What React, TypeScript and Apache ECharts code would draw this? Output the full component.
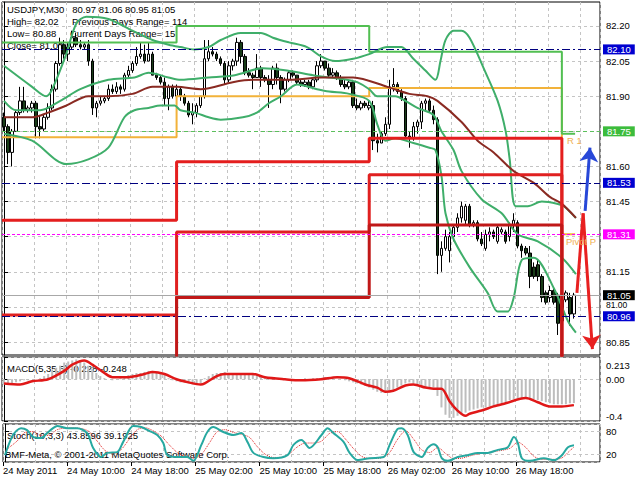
import React, { useEffect, useRef } from 'react';
import * as echarts from 'echarts';

const FONT = 'Tahoma, "Liberation Sans", Arial, sans-serif';
const SLOTS = 149;

// ---- price candles (M30 bars) ----
const opens = [
  81.81, 81.77, 81.66, 81.75, 81.83, 81.88, 81.84, 81.85, 81.87, 81.77,
  81.76, 81.81, 81.85, 81.93, 82.04, 82.12, 82.08, 82.11, 82.15, 82.12,
  82.11, 82.12, 82.05, 81.85, 81.87, 81.88, 81.89, 81.93, 81.92, 81.94,
  81.93, 81.99, 82.01, 82.04, 82.07, 82.08, 82.05, 82.08, 81.99, 81.98,
  81.96, 81.89, 81.94, 81.90, 81.93, 81.90, 81.87, 81.82, 81.83, 81.86,
  81.90, 82.06, 82.09, 82.08, 82.06, 82.04, 81.97, 82.03, 82.05, 82.13,
  82.07, 82.00, 81.99, 81.98, 82.02, 81.98, 81.97, 81.95, 82.02, 81.98,
  81.93, 81.97, 82.00, 81.99, 81.96, 81.95, 81.96, 81.94, 81.97, 82.03,
  82.05, 82.02, 81.99, 82.00, 81.98, 81.95, 81.94, 81.96, 81.86, 81.85,
  81.87, 81.85, 81.86, 81.71, 81.70, 81.74, 81.78, 81.94, 81.95, 81.92,
  81.89, 81.73, 81.72, 81.77, 81.79, 81.87, 81.88, 81.84, 81.80, 81.22,
  81.25, 81.24, 81.30, 81.34, 81.38, 81.37, 81.43, 81.35, 81.36, 81.29,
  81.25, 81.31, 81.32, 81.28, 81.32, 81.32, 81.30, 81.35, 81.36, 81.26,
  81.25, 81.23, 81.17, 81.18, 81.13, 81.06, 81.04, 81.07, 81.05, 80.94,
  81.03, 81.04, 80.97,
];
const closes = [
  81.77, 81.66, 81.75, 81.83, 81.88, 81.84, 81.85, 81.87, 81.77, 81.76,
  81.81, 81.85, 81.93, 82.04, 82.12, 82.08, 82.11, 82.15, 82.12, 82.11,
  82.12, 82.05, 81.85, 81.87, 81.88, 81.89, 81.93, 81.92, 81.94, 81.93,
  81.99, 82.01, 82.04, 82.07, 82.08, 82.05, 82.08, 81.99, 81.98, 81.96,
  81.89, 81.94, 81.90, 81.93, 81.90, 81.87, 81.82, 81.83, 81.86, 81.90,
  82.06, 82.09, 82.08, 82.06, 82.04, 81.97, 82.03, 82.05, 82.13, 82.07,
  82.00, 81.99, 81.98, 82.02, 81.98, 81.97, 81.95, 82.02, 81.98, 81.93,
  81.97, 82.00, 81.99, 81.96, 81.95, 81.96, 81.94, 81.97, 82.03, 82.05,
  82.02, 81.99, 82.00, 81.98, 81.95, 81.94, 81.96, 81.86, 81.85, 81.87,
  81.86, 81.86, 81.71, 81.70, 81.74, 81.78, 81.94, 81.95, 81.92, 81.89,
  81.73, 81.72, 81.77, 81.79, 81.87, 81.88, 81.84, 81.80, 81.22, 81.25,
  81.30, 81.30, 81.34, 81.38, 81.43, 81.43, 81.35, 81.36, 81.29, 81.27,
  81.31, 81.32, 81.30, 81.34, 81.33, 81.28, 81.35, 81.37, 81.26, 81.24,
  81.23, 81.13, 81.13, 81.13, 81.04, 81.02, 81.07, 81.02, 80.93, 81.03,
  81.06, 80.97, 81.05,
];
const lows = [
  81.75, 81.61, 81.60, 81.75, 81.82, 81.83, 81.83, 81.83, 81.72, 81.72,
  81.75, 81.80, 81.84, 81.92, 82.03, 82.06, 82.05, 82.10, 82.11, 82.10,
  82.10, 82.03, 81.82, 81.81, 81.86, 81.87, 81.88, 81.91, 81.91, 81.91,
  81.92, 81.98, 82.00, 82.03, 82.06, 82.04, 82.05, 81.99, 81.97, 81.95,
  81.86, 81.84, 81.89, 81.90, 81.88, 81.86, 81.81, 81.78, 81.81, 81.85,
  81.89, 82.05, 82.07, 82.05, 82.03, 81.95, 81.96, 82.01, 82.03, 82.04,
  81.99, 81.98, 81.93, 81.98, 81.94, 81.96, 81.85, 81.93, 81.95, 81.87,
  81.92, 81.96, 81.98, 81.95, 81.94, 81.94, 81.93, 81.93, 81.96, 82.02,
  82.01, 81.98, 81.98, 81.97, 81.94, 81.93, 81.93, 81.85, 81.84, 81.84,
  81.85, 81.84, 81.67, 81.66, 81.70, 81.73, 81.76, 81.92, 81.91, 81.88,
  81.72, 81.68, 81.71, 81.74, 81.76, 81.84, 81.83, 81.78, 81.14, 81.15,
  81.24, 81.19, 81.28, 81.32, 81.36, 81.35, 81.34, 81.34, 81.28, 81.26,
  81.24, 81.28, 81.29, 81.27, 81.31, 81.27, 81.28, 81.32, 81.25, 81.21,
  81.22, 81.08, 81.12, 81.11, 81.02, 81.01, 81.02, 81.01, 80.88, 80.92,
  81.02, 80.92, 80.95,
];
const highs = [
  81.83, 81.78, 81.76, 81.84, 81.94, 81.94, 81.86, 81.88, 81.88, 81.82,
  81.82, 81.87, 81.95, 82.05, 82.15, 82.14, 82.13, 82.18, 82.17, 82.14,
  82.13, 82.14, 82.06, 81.88, 81.90, 81.90, 81.95, 81.95, 81.96, 81.95,
  82.00, 82.03, 82.05, 82.11, 82.13, 82.12, 82.13, 82.09, 82.00, 81.99,
  81.98, 81.95, 81.95, 81.95, 81.94, 81.91, 81.88, 81.87, 81.87, 81.90,
  82.14, 82.14, 82.11, 82.09, 82.07, 82.05, 82.05, 82.06, 82.15, 82.14,
  82.08, 82.02, 82.00, 82.08, 82.03, 81.99, 81.99, 82.03, 82.04, 81.99,
  81.98, 82.01, 82.01, 81.99, 81.97, 81.97, 81.97, 81.98, 82.05, 82.08,
  82.05, 82.04, 82.02, 82.01, 81.99, 81.97, 81.97, 81.97, 81.89, 81.88,
  81.88, 81.88, 81.88, 81.74, 81.75, 81.81, 81.97, 82.02, 81.96, 81.93,
  81.90, 81.75, 81.79, 81.80, 81.88, 81.89, 81.89, 81.86, 81.81, 81.28,
  81.33, 81.32, 81.35, 81.40, 81.45, 81.44, 81.44, 81.37, 81.37, 81.32,
  81.33, 81.34, 81.33, 81.35, 81.34, 81.33, 81.36, 81.40, 81.37, 81.27,
  81.26, 81.26, 81.19, 81.20, 81.14, 81.07, 81.09, 81.08, 81.06, 81.05,
  81.07, 81.06, 81.06,
];

// ---- indicator lines on the price pane: [bar, price] ----
const bbUpper = [[0,82.03],[7,81.94],[10.5,81.90],[12,81.93],[15.5,82.08],[18,82.21],[20.5,82.24],[26,82.23],[32,82.18],[37,82.14],[41,82.12],[44,82.11],[47.5,82.10],[51,82.11],[54,82.14],[59,82.17],[64,82.17],[67,82.15],[71,82.13],[75.5,82.11],[79,82.07],[82.5,82.05],[87,82.06],[91,82.08],[95.5,82.11],[99,82.11],[102,82.06],[105,82.01],[107.5,81.97],[108.75,82.05],[110,82.14],[112,82.18],[114,82.18],[116,82.15],[119.5,82.02],[123,81.88],[125,81.75],[126,81.63],[127.5,81.43],[130.5,81.43],[134,81.45],[138,81.44],[139.5,81.43],[142.5,81.38]];
const bbMiddle = [[0,81.88],[3,81.84],[9,81.84],[14,81.88],[19,81.93],[26,81.97],[32.5,81.98],[36,82.00],[41,81.98],[44,81.97],[51,81.98],[57.5,81.99],[64.5,82.02],[70.5,82.01],[77,81.99],[81,81.98],[85.5,81.97],[88,81.96],[91,81.93],[93,81.90],[97.5,81.90],[100,81.88],[103,81.85],[107,81.82],[109,81.75],[112,81.67],[114,81.58],[119,81.46],[124,81.40],[128,81.31],[133,81.28],[139,81.21],[142.5,81.14]];
const bbLower = [[0,81.74],[7,81.71],[15.5,81.61],[21,81.63],[26,81.68],[30,81.81],[32.5,81.84],[36,81.85],[39,81.86],[42.5,81.86],[44,81.84],[47.5,81.83],[51,81.81],[54,81.80],[59.5,81.81],[63,81.83],[66,81.87],[69,81.90],[73,81.95],[78,81.93],[81,81.92],[86,81.91],[91,81.88],[93,81.78],[95,81.71],[97.5,81.72],[102,81.70],[106,81.68],[107.5,81.67],[109,81.56],[110,81.40],[112,81.29],[116,81.17],[120.5,81.06],[123,80.98],[125.5,80.98],[127,81.04],[129,81.20],[132,81.21],[137,81.08],[140.5,80.94],[142.5,80.89]];
const maLine = [[0,81.81],[7,81.81],[11,81.83],[15.5,81.86],[21,81.90],[26,81.90],[32,81.91],[37,81.94],[43,81.94],[49,81.93],[57,81.96],[62,81.97],[71,81.97],[79,81.98],[87,81.98],[95.5,81.94],[101,81.91],[105.5,81.90],[108,81.88],[114,81.79],[118,81.71],[122,81.66],[127,81.58],[132,81.53],[136,81.47],[139,81.44],[142.5,81.38]];

// ---- daily pivot levels ----
const dayStarts = [0, 43, 91, 139];
const lastBar = 142;
const pivotLevels = [81.725, 81.90, 81.935, 81.31];
const r1Levels = [82.13, 82.20, 82.09, 81.74];
const s1Levels = [81.37, 81.62, 81.72, 80.60];
const s2Levels = [80.965, 81.32, 81.565, 80.17];
const s3Levels = [80.61, 81.04, 81.35, 79.46];

// ---- horizontal levels with price tags ----
const levelValues = [82.10, 81.75, 81.53, 81.31, 81.05, 80.96];
const levelTagColors = ['#0000d0', '#3cbc3c', '#0000d0', '#ff00ff', '#000000', '#0000d0'];
const levelLineColors = ['#000080', '#5cbf5c', '#000080', '#ff00ff', '#a8a8a8', '#000080'];
const levelDash: any[] = [[8, 3, 2, 3], [4, 3], [8, 3, 2, 3], [3, 2], 'solid', [8, 3, 2, 3]];

// ---- projection arrows: [bar, price] ----
const redProjection = [[142.75, 81.06], [144.3, 81.40]];
const redArrow = [[144.3, 81.40], [146.6, 80.82]];
const blueArrow = [[144.8, 81.41], [146.0, 81.68]];

// ---- MACD(5,35,5) ----
const macdHist = [
  -0.05, -0.05, -0.04, -0.03, -0.02, -0.01, -0.01, 0.00, 0.00, 0.01,
  0.03, 0.05, 0.08, 0.11, 0.13, 0.16, 0.17, 0.18, 0.19, 0.18,
  0.16, 0.13, 0.10, 0.06, 0.03, 0.01, 0.00, -0.01, 0.00, 0.01,
  0.02, 0.04, 0.05, 0.06, 0.06, 0.07, 0.08, 0.08, 0.07, 0.06,
  0.04, 0.01, -0.01, -0.02, -0.03, -0.03, -0.04, -0.05, -0.05, -0.04,
  0.01, 0.03, 0.05, 0.06, 0.06, 0.07, 0.06, 0.06, 0.06, 0.06,
  0.06, 0.05, 0.05, 0.04, 0.03, 0.02, 0.02, 0.01, 0.01, 0.00,
  0.00, -0.01, 0.00, -0.01, 0.00, 0.01, 0.00, 0.01, 0.01, 0.01,
  0.02, 0.01, 0.01, 0.00, 0.00, -0.01, -0.02, -0.03, -0.04, -0.05,
  -0.06, -0.08, -0.10, -0.12, -0.13, -0.13, -0.12, -0.10, -0.08, -0.06,
  -0.04, -0.03, -0.04, -0.05, -0.07, -0.08, -0.08, -0.08, -0.16, -0.27,
  -0.34, -0.37, -0.37, -0.35, -0.34, -0.32, -0.30, -0.29, -0.28, -0.27,
  -0.27, -0.26, -0.26, -0.24, -0.23, -0.22, -0.20, -0.19, -0.18, -0.18,
  -0.18, -0.18, -0.19, -0.20, -0.21, -0.22, -0.23, -0.24, -0.24, -0.24,
  -0.24, -0.23, -0.228,
];
const macdSignal = [[0,-0.04],[4,-0.05],[7,-0.02],[11,0.0],[15,0.08],[17,0.14],[20,0.18],[22,0.14],[25,0.06],[27,0.02],[31,0.02],[35,0.05],[37,0.07],[40,0.05],[43,0.0],[46,-0.03],[49,-0.05],[50,-0.04],[53,0.03],[55,0.05],[60,0.05],[62,0.05],[65,0.02],[70,0.0],[74,-0.01],[79,0.0],[83,0.02],[86,0.01],[90,-0.05],[93,-0.08],[95,-0.12],[97,-0.11],[100,-0.06],[102,-0.05],[105,-0.08],[107,-0.09],[109,-0.09],[111,-0.21],[113,-0.30],[115,-0.35],[116,-0.33],[119,-0.30],[122,-0.26],[125,-0.23],[130,-0.18],[133,-0.22],[136,-0.26],[139,-0.26],[142,-0.248]];
const macdTicks = [-0.4, 0, 0.213];

// ---- Stochastic(10,3,3) ----
const stochMain = [[0,18],[2,71],[4,89],[5.5,84],[7,66],[9,63],[10.5,76],[12,89],[13,95],[15.5,89],[18,89],[20.5,76],[22,37],[24,13],[25.5,24],[28,26],[29.5,53],[32,95],[34,92],[36,82],[38,71],[39.5,50],[40.5,18],[43,13],[45.5,13],[47,3],[49,45],[50.5,79],[52,92],[54.5,79],[57,71],[59,76],[60.5,53],[62,24],[64.5,13],[67,10],[70.5,18],[72,45],[74,58],[76,37],[79,71],[80.5,89],[82,76],[84.5,53],[86,24],[88,5],[91,10],[94.5,13],[96,45],[98,87],[99,89],[100.5,71],[102,26],[104,13],[105.5,37],[107,47],[108,39],[109,10],[110.5,3],[113,13],[115.5,18],[118,24],[120.5,24],[123,32],[125.5,39],[127,66],[128,50],[129,10],[131,3],[134.5,10],[137,5],[139,18],[140.5,39],[142,43.86]];
const stochSignal = [[0,30],[3,55],[5,78],[7,80],[9,70],[11,70],[13,85],[16,90],[19,88],[21,80],[23,55],[25,30],[27,22],[29,33],[31,60],[33,85],[35,90],[37,82],[39,68],[41,45],[43,25],[45,14],[47,10],[49,20],[51,50],[53,80],[55,85],[57,78],[59,73],[61,65],[63,40],[65,20],[67,12],[69,12],[71,22],[73,40],[75,50],[77,50],[79,55],[81,75],[83,80],[85,60],[87,35],[89,15],[91,9],[94,11],[96,25],[98,60],[100,82],[102,60],[104,32],[106,25],[108,38],[110,22],[112,9],[114,10],[116,16],[118,21],[120,24],[123,29],[126,36],[128,52],[130,38],[132,15],[134,7],[137,7],[139,11],[141,30],[142,39.19]];
const stochTicks = [0, 20, 80, 100];

// ---- axes ----
const priceTicks = [80.85, 81.00, 81.15, 81.30, 81.45, 81.60, 81.75, 81.90, 82.05, 82.20];
const priceLabels = [80.85, 81.00, 81.15, 81.45, 81.60, 81.90, 82.05, 82.20];
const timeLabelBars = [0, 16, 32, 48, 64, 80, 96, 112, 128];
const timeLabels = ['24 May 2011', '24 May 10:00', '24 May 18:00', '25 May 02:00', '25 May 10:00', '25 May 18:00', '26 May 02:00', '26 May 10:00', '26 May 18:00'];

function steps(levels: number[]) {
  const pts: number[][] = [];
  levels.forEach((v, d) => {
    const start = d === 0 ? -0.5 : dayStarts[d];
    const end = d < levels.length - 1 ? dayStarts[d + 1] : lastBar + 0.3;
    pts.push([start, v], [end, v]);
  });
  return pts;
}

const gridLine = { show: true, lineStyle: { color: '#c4c4c4', type: [3, 3] as any, width: 1 } };

function buildOption() {
  const cats = Array.from({ length: SLOTS }, (_, i) => String(i));
  const catAxis = (g: number) => ({
    type: 'category', gridIndex: g, data: cats, boundaryGap: true,
    axisLine: { show: false }, axisTick: { show: false }, axisLabel: { show: false },
    splitLine: { ...gridLine, interval: 7 },
  });
  const hiddenVal = (g: number) => ({ type: 'value', gridIndex: g, min: -0.5, max: SLOTS - 0.5, show: false });
  const timeTickVals = timeLabelBars.map((b) => b - 0.5);

  const line = (data: any, color: string, width: number, extra: any = {}) => ({
    type: 'line', xAxisIndex: 1, yAxisIndex: 0, data, symbol: 'none', silent: true,
    lineStyle: { color, width }, z: 3, ...extra,
  });

  const txt = (x: number, y: number, text: string, fill = '#000', z = 1) => ({
    type: 'text', x, y, z, silent: true,
    style: { text, fill, fontSize: 9.5, fontFamily: FONT, verticalAlign: 'middle' },
  });

  return {
    animation: false,
    backgroundColor: '#ffffff',
    textStyle: { fontFamily: FONT },
    grid: [
      { left: 2, top: 2, width: 598, height: 353, show: true, borderColor: '#000', borderWidth: 1, backgroundColor: 'transparent' },
      { left: 2, top: 357, width: 598, height: 64, show: true, borderColor: '#000', borderWidth: 1, backgroundColor: 'transparent' },
      { left: 2, top: 424, width: 598, height: 38, show: true, borderColor: '#000', borderWidth: 1, backgroundColor: 'transparent' },
    ],
    xAxis: [
      catAxis(0), hiddenVal(0),
      catAxis(1), hiddenVal(1),
      catAxis(2),
      {
        type: 'value', gridIndex: 2, min: -0.5, max: SLOTS - 0.5, position: 'bottom',
        axisLine: { show: false },
        axisTick: { show: true, customValues: timeTickVals, length: 4, lineStyle: { color: '#000' } },
        axisLabel: {
          customValues: timeTickVals, align: 'left', margin: 3, color: '#000', fontSize: 9.5, fontFamily: FONT,
          formatter: (v: number) => {
            const k = timeTickVals.findIndex((t) => Math.abs(t - v) < 0.01);
            return k >= 0 ? timeLabels[k] : '';
          },
        },
        splitLine: { show: false },
      },
    ],
    yAxis: [
      {
        type: 'value', gridIndex: 0, position: 'right', min: 80.7945, max: 82.3025,
        axisLine: { show: true, lineStyle: { color: '#000' } },
        axisTick: { show: true, customValues: priceTicks, length: 4, lineStyle: { color: '#000' } },
        axisLabel: {
          customValues: priceLabels, color: '#000', fontSize: 9.5, fontFamily: FONT, margin: 6,
          formatter: (v: number) => (Math.abs(v - 81.0) < 0.001 ? '{u|81.00}' : v.toFixed(2)),
          rich: { u: { padding: [0, 0, 3, 0], fontSize: 8.5, lineHeight: 9, fontFamily: FONT, color: '#000' } },
        },
        splitLine: gridLine,
      },
      {
        type: 'value', gridIndex: 1, position: 'right', min: -0.4, max: 0.213,
        axisLine: { show: true, lineStyle: { color: '#000' } },
        axisTick: { show: true, customValues: macdTicks, length: 4, lineStyle: { color: '#000' } },
        axisLabel: {
          customValues: macdTicks, color: '#000', fontSize: 9.5, fontFamily: FONT, margin: 6,
          formatter: (v: number) => (v > 0.1 ? '{t|0.213}' : v < -0.1 ? '{b|-0.4}' : '0.00'),
          rich: {
            t: { padding: [16, 0, 0, 0], fontSize: 9.5, fontFamily: FONT, color: '#000' },
            b: { padding: [0, 0, 10, 0], fontSize: 9.5, fontFamily: FONT, color: '#000' },
          },
        },
        splitLine: gridLine,
      },
      {
        type: 'value', gridIndex: 2, position: 'right', min: 0, max: 100,
        axisLine: { show: true, lineStyle: { color: '#000' } },
        axisTick: { show: true, customValues: stochTicks, length: 4, lineStyle: { color: '#000' } },
        axisLabel: {
          customValues: stochTicks, color: '#000', fontSize: 9.5, fontFamily: FONT, margin: 6,
          formatter: (v: number) => (v === 100 ? '{t|100}' : v === 0 ? '{b|0}' : String(v)),
          rich: {
            t: { padding: [18, 0, 0, 0], fontSize: 9.5, fontFamily: FONT, color: '#000' },
            b: { padding: [0, 0, 14, 0], fontSize: 9.5, fontFamily: FONT, color: '#000' },
          },
        },
        splitLine: gridLine,
      },
    ],
    graphic: [
      txt(7, 9, 'USDJPY,M30 \u00a0\u00a080.97 81.06 80.95 81.05'),
      txt(7, 21, 'High= 82.02'),
      txt(72, 21, 'Previous Days Range= 114'),
      txt(7, 33, 'Low= 80.88'),
      txt(70, 33, 'Current Days Range= 15'),
      txt(7, 45, 'Close= 81.03'),
      txt(567, 140, 'R 1', '#f0b050', 6),
      txt(566, 241, 'Pivot P', '#f0b050', 6),
      txt(7, 368, 'MACD(5,35,5) -0.228 -0.248'),
      txt(7, 435, 'Stoch(10,3,3) 43.8596 39.1925'),
      txt(5, 454, 'BMF-Meta, \u00a9 2001-2011 MetaQuotes Software Corp.'),
    ],
    series: [
      {
        type: 'candlestick', xAxisIndex: 0, yAxisIndex: 0, silent: true, z: 2,
        data: opens.map((o, i) => [o, closes[i], lows[i], highs[i]]),
        barWidth: 3,
        itemStyle: { color: '#ffffff', color0: '#183c18', borderColor: '#000000', borderColor0: '#000000', borderWidth: 1 },
        markLine: {
          silent: true, symbol: ['none', 'none'], animation: false,
          data: levelValues.map((v, k) => ({
            yAxis: v,
            lineStyle: { color: levelLineColors[k], type: levelDash[k], width: 1 },
            label: {
              show: true, position: 'end', distance: 3, formatter: v.toFixed(2),
              color: '#fff', backgroundColor: levelTagColors[k], padding: [0, 4, 0, 4],
              fontSize: 9.5, fontFamily: FONT,
            },
          })),
        },
      },
      line(steps(pivotLevels), '#f2b23a', 2, { z: 3 }),
      line(steps(r1Levels), '#52bf52', 2, { z: 3 }),
      line(bbUpper, '#3fae6a', 2, { smooth: 0.3 }),
      line(bbMiddle, '#3fae6a', 2, { smooth: 0.3 }),
      line(bbLower, '#3fae6a', 2, { smooth: 0.3 }),
      line(maLine, '#8a2a22', 2, { smooth: 0.3 }),
      line(steps(s1Levels), '#e41e1e', 3, { z: 4 }),
      line(steps(s2Levels), '#e02020', 3, { z: 4 }),
      line(steps(s3Levels), '#c01818', 3, { z: 4 }),
      line(redProjection, '#e82020', 3, {
        z: 5,
        markLine: {
          silent: true, symbol: ['none', 'arrow'], symbolSize: 14, animation: false, label: { show: false },
          data: [
            [{ coord: redArrow[0], lineStyle: { color: '#e82020', width: 3, type: 'solid' } }, { coord: redArrow[1] }],
            [{ coord: blueArrow[0], lineStyle: { color: '#2848d8', width: 3, type: 'solid' } }, { coord: blueArrow[1] }],
          ],
        },
      }),
      {
        type: 'bar', xAxisIndex: 2, yAxisIndex: 1, data: macdHist, barWidth: 2, silent: true,
        itemStyle: { color: '#bdbdbd' }, z: 2,
      },
      {
        type: 'line', xAxisIndex: 3, yAxisIndex: 1, data: macdSignal, symbol: 'none', smooth: 0.3, silent: true,
        lineStyle: { color: '#e01818', width: 2.5 }, z: 3,
      },
      {
        type: 'line', xAxisIndex: 5, yAxisIndex: 2, data: stochSignal, symbol: 'none', smooth: 0.3, silent: true,
        lineStyle: { color: '#e02020', width: 1, type: 'dotted' }, z: 3,
      },
      {
        type: 'line', xAxisIndex: 5, yAxisIndex: 2, data: stochMain, symbol: 'none', smooth: 0.3, silent: true,
        lineStyle: { color: '#27a8a0', width: 2 }, z: 4,
      },
    ],
  };
}

export default function App() {
  const ref = useRef<HTMLDivElement>(null);
  useEffect(() => {
    if (!ref.current) return;
    const chart = echarts.init(ref.current, null, { renderer: 'svg', width: 640, height: 480 });
    chart.setOption(buildOption() as any);
    return () => chart.dispose();
  }, []);
  return <div ref={ref} style={{ position: 'fixed', left: 0, top: 0, width: 640, height: 480, background: '#fff' }} />;
}
